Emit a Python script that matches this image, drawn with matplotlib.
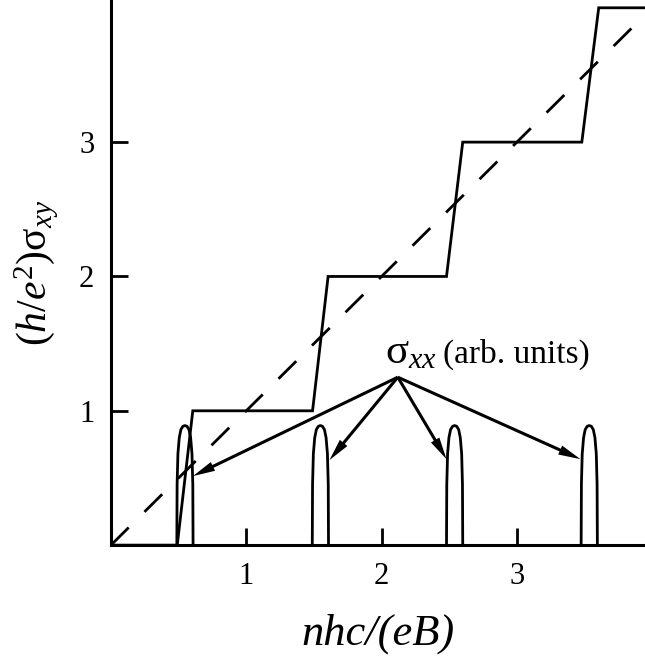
import numpy as np
import matplotlib
matplotlib.use('Agg')
import matplotlib.pyplot as plt

plt.rcParams['font.family'] = ['Liberation Serif', 'DejaVu Serif']
plt.rcParams['mathtext.fontset'] = 'custom'
plt.rcParams['mathtext.rm'] = 'Liberation Serif'
plt.rcParams['mathtext.it'] = 'Liberation Serif:italic'

# quantized Hall conductance (staircase)
step_x = [0.0, 0.49, 0.605, 1.49, 1.605, 2.48, 2.60, 3.48, 3.605, 3.95]
step_y = [0, 0, 1, 1, 2, 2, 3, 3, 4, 4]

# classical line sigma_xy ~ n
diag_x = [0.0, 3.95]
diag_y = [0.0, 3.95]

# sigma_xx peaks: centres and the shape of one peak
peak_centers = [0.547, 1.548, 2.54, 3.535]
peak_dx = [-0.060, -0.058, -0.052, -0.042, -0.030, -0.015, 0.0,
           0.015, 0.030, 0.042, 0.052, 0.058, 0.060]
peak_h = [0.0, 0.45, 0.68, 0.80, 0.86, 0.885, 0.89,
          0.885, 0.86, 0.80, 0.68, 0.45, 0.0]

# arrows from the label to the peaks
arrow_from = (2.12, 1.25)
arrow_to_x = [0.606, 1.615, 2.48, 3.47]
arrow_to_y = [0.514, 0.633, 0.64, 0.64]

xticks = [1, 2, 3]
yticks = [1, 2, 3]

fig = plt.figure(figsize=(6.45, 6.56), dpi=100)
ax = fig.add_axes([0.172, 0.169, 0.828, 0.831])

ax.plot(step_x, step_y, color='k', lw=2.0, solid_joinstyle='miter')
ax.plot(diag_x, diag_y, color='k', lw=2.0, dashes=(9, 8))

for c in peak_centers:
    ax.plot(c + np.array(peak_dx), peak_h, color='k', lw=2.0)

for tx, ty in zip(arrow_to_x, arrow_to_y):
    ax.annotate('', xy=(tx, ty), xytext=arrow_from,
                arrowprops=dict(width=2.2, headwidth=7, headlength=16,
                                shrink=0, color='k', lw=0))

# label: big sigma, smaller "(arb. units)"
ax.text(2.025, 1.355, r'$\mathrm{\sigma}_{xx}$', fontsize=31,
        ha='left', va='baseline')
ax.text(2.454, 1.355, '(arb. units)', fontsize=24,
        ha='left', va='baseline')

ax.set_xlim(0, 3.947)
ax.set_ylim(0, 4.058)
ax.set_xticks(xticks)
ax.set_yticks(yticks)
ax.tick_params(direction='in', length=12, width=2.0, labelsize=22, pad=12)

for s in ['top', 'right']:
    ax.spines[s].set_visible(False)
for s in ['left', 'bottom']:
    ax.spines[s].set_linewidth(2.2)

ax.set_xlabel('nhc/(eB)', fontsize=32, fontstyle='italic', labelpad=16)
ax.set_ylabel(r'$(h/e^2)\mathrm{\sigma}_{xy}$', fontsize=30, labelpad=13)

fig.savefig('out.png', dpi=100)
